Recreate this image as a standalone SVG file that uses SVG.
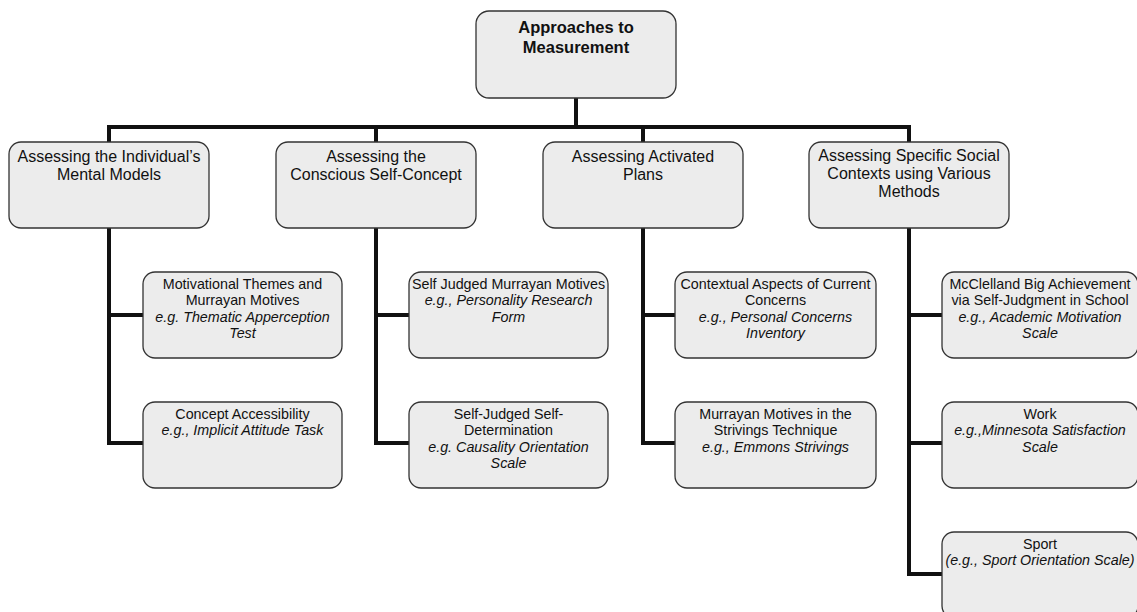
<svg xmlns="http://www.w3.org/2000/svg" width="1137" height="612" viewBox="0 0 1137 612">
<style>
.box{fill:#ececec;stroke:#333;stroke-width:1.3}
.conn{fill:none;stroke:#111;stroke-width:4;stroke-linejoin:miter;stroke-linecap:butt}
text{font-family:"Liberation Sans",Arial,sans-serif;fill:#111;text-anchor:middle}
.t0{font-size:16.5px;font-weight:bold}
.t1{font-size:16px}
.t2{font-size:14.3px}
.i{font-style:italic}
</style>
<rect width="1137" height="612" fill="#fff"/>
<g id="connectors">
<path class="conn" d="M576,98 V127 M107,127 H911 M109,127 V142 M376,127 V142 M643,127 V142 M909,127 V142"/>
<path class="conn" d="M109,228 V443 H143 M109,315 H143"/>
<path class="conn" d="M376,228 V443 H409 M376,315 H409"/>
<path class="conn" d="M643,228 V443 H675 M643,315 H675"/>
<path class="conn" d="M909,228 V574 H942 M909,315 H942 M909,443 H942"/>
</g>
<g id="root">
<rect class="box" x="476" y="11" width="200" height="87" rx="13"/>
<text class="t0" x="576" y="33">Approaches to</text>
<text class="t0" x="576" y="53">Measurement</text>
</g>
<g id="n1">
<rect class="box" x="9" y="142" width="200" height="86" rx="12"/>
<text class="t1" x="109" y="162">Assessing the Individual’s</text>
<text class="t1" x="109" y="180">Mental Models</text>
</g>
<g id="n2">
<rect class="box" x="276" y="142" width="200" height="86" rx="12"/>
<text class="t1" x="376" y="162">Assessing the</text>
<text class="t1" x="376" y="180">Conscious Self-Concept</text>
</g>
<g id="n3">
<rect class="box" x="543" y="142" width="200" height="86" rx="12"/>
<text class="t1" x="643" y="162">Assessing Activated</text>
<text class="t1" x="643" y="180">Plans</text>
</g>
<g id="n4">
<rect class="box" x="809" y="142" width="200" height="86" rx="12"/>
<text class="t1" x="909" y="161">Assessing Specific Social</text>
<text class="t1" x="909" y="179">Contexts using Various</text>
<text class="t1" x="909" y="197">Methods</text>
</g>
<g id="n1a">
<rect class="box" x="143" y="272" width="199" height="86" rx="12"/>
<text class="t2" x="242.5" y="289">Motivational Themes and</text>
<text class="t2" x="242.5" y="305.3">Murrayan Motives</text>
<text class="t2 i" x="242.5" y="321.6">e.g. Thematic Apperception</text>
<text class="t2 i" x="242.5" y="337.9">Test</text>
</g>
<g id="n1b">
<rect class="box" x="143" y="402" width="199" height="86" rx="12"/>
<text class="t2" x="242.5" y="419">Concept Accessibility</text>
<text class="t2 i" x="242.5" y="435.3">e.g., Implicit Attitude Task</text>
</g>
<g id="n2a">
<rect class="box" x="409" y="272" width="199" height="86" rx="12"/>
<text class="t2" x="508.5" y="289">Self Judged Murrayan Motives</text>
<text class="t2 i" x="508.5" y="305.3">e.g., Personality Research</text>
<text class="t2 i" x="508.5" y="321.6">Form</text>
</g>
<g id="n2b">
<rect class="box" x="409" y="402" width="199" height="86" rx="12"/>
<text class="t2" x="508.5" y="419">Self-Judged Self-</text>
<text class="t2" x="508.5" y="435.3">Determination</text>
<text class="t2 i" x="508.5" y="451.6">e.g. Causality Orientation</text>
<text class="t2 i" x="508.5" y="467.9">Scale</text>
</g>
<g id="n3a">
<rect class="box" x="675" y="272" width="201" height="86" rx="12"/>
<text class="t2" x="775.5" y="289">Contextual Aspects of Current</text>
<text class="t2" x="775.5" y="305.3">Concerns</text>
<text class="t2 i" x="775.5" y="321.6">e.g., Personal Concerns</text>
<text class="t2 i" x="775.5" y="337.9">Inventory</text>
</g>
<g id="n3b">
<rect class="box" x="675" y="402" width="201" height="86" rx="12"/>
<text class="t2" x="775.5" y="419">Murrayan Motives in the</text>
<text class="t2" x="775.5" y="435.3">Strivings Technique</text>
<text class="t2 i" x="775.5" y="451.6">e.g., Emmons Strivings</text>
</g>
<g id="n4a">
<rect class="box" x="942" y="272" width="196" height="86" rx="12"/>
<text class="t2" x="1040" y="289">McClelland Big Achievement</text>
<text class="t2" x="1040" y="305.3">via Self-Judgment in School</text>
<text class="t2 i" x="1040" y="321.6">e.g., Academic Motivation</text>
<text class="t2 i" x="1040" y="337.9">Scale</text>
</g>
<g id="n4b">
<rect class="box" x="942" y="402" width="196" height="86" rx="12"/>
<text class="t2" x="1040" y="419">Work</text>
<text class="t2 i" x="1040" y="435.3">e.g.,Minnesota Satisfaction</text>
<text class="t2 i" x="1040" y="451.6">Scale</text>
</g>
<g id="n4c">
<rect class="box" x="942" y="532" width="196" height="86" rx="12"/>
<text class="t2" x="1040" y="549">Sport</text>
<text class="t2 i" x="1040" y="565.3">(e.g., Sport Orientation Scale)</text>
</g>
</svg>
